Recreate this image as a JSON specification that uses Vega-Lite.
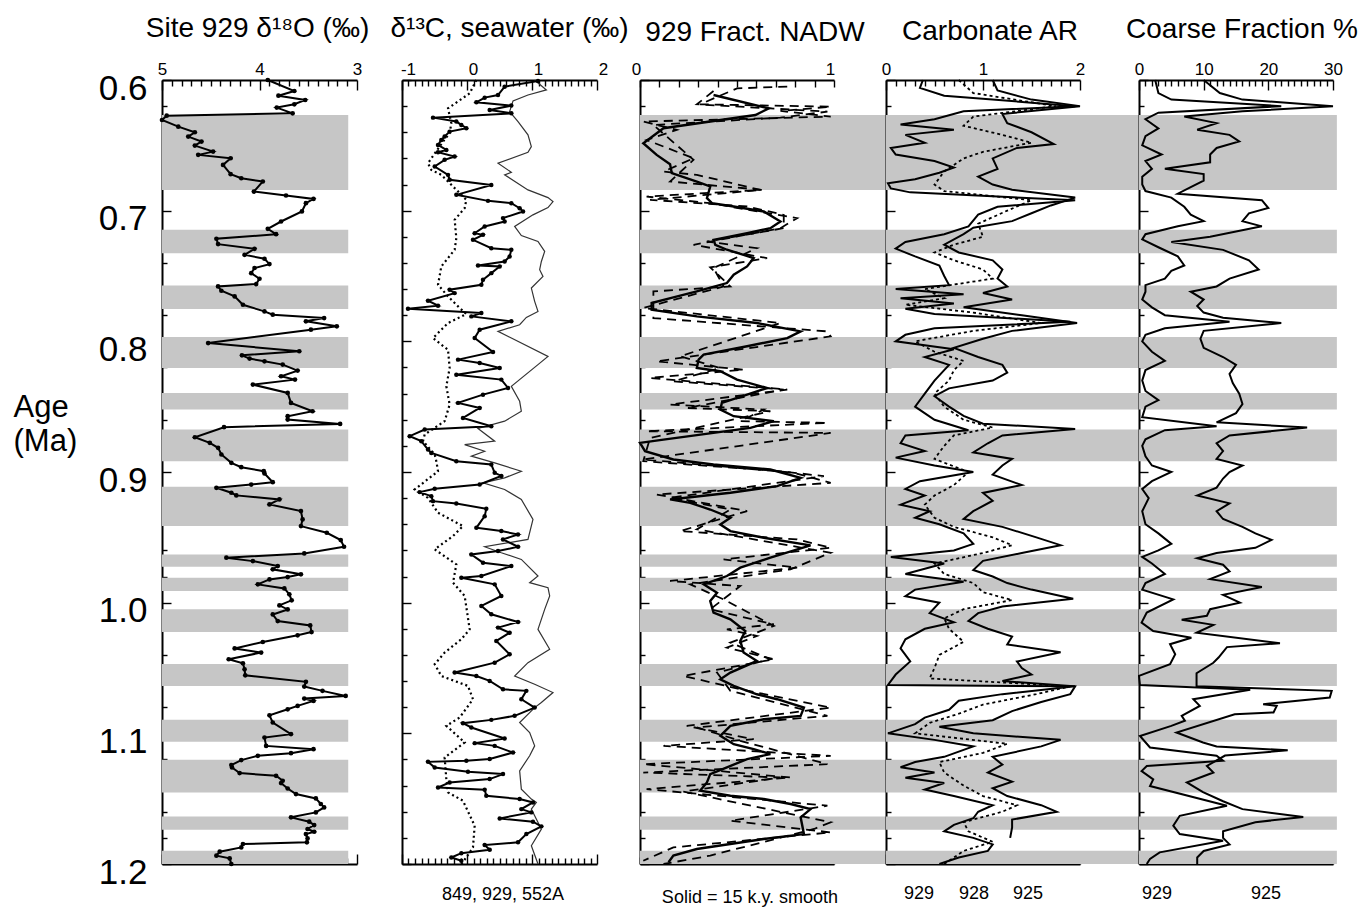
{
"$schema": "https://vega.github.io/schema/vega-lite/v6.json",
"background": "white",
"padding": {"left": 13, "top": 15, "right": 5, "bottom": 5},
"bounds": "flush",
"spacing": 0,
"config": {
 "view": {"stroke": null},
 "font": "Liberation Sans",
 "axis": {"grid": false, "zindex": 1, "domainColor": "#000", "domainWidth": 2, "tickColor": "#000", "tickWidth": 1.4, "labelColor": "#000", "labelFont": "Liberation Sans", "labelFlush": false, "labelOverlap": false, "labelBound": false, "titleColor": "#000", "titleFont": "Liberation Sans", "titleFontWeight": "normal"},
 "title": {"font": "Liberation Sans", "fontSize": 28, "fontWeight": "normal", "color": "#000", "anchor": "middle", "frame": "group"},
 "text": {"font": "Liberation Sans", "fontSize": 18, "color": "#000"}
},
"datasets": {
 "bands": [{"a0":0.6268,"a1":0.6841},{"a0":0.7146,"a1":0.7325},{"a0":0.7572,"a1":0.7753},{"a0":0.7967,"a1":0.8204},{"a0":0.8395,"a1":0.8522},{"a0":0.8675,"a1":0.8917},{"a0":0.9113,"a1":0.9414},{"a0":0.9631,"a1":0.9725},{"a0":0.9809,"a1":0.991},{"a0":1.005,"a1":1.0224},{"a0":1.047,"a1":1.0637},{"a0":1.0897,"a1":1.1065},{"a0":1.1203,"a1":1.1452},{"a0":1.1636,"a1":1.1738},{"a0":1.1898,"a1":1.2}],
 "p1": [{"age":0.6,"v":3.915},{"age":0.6084,"v":3.643},{"age":0.612,"v":3.806},{"age":0.6153,"v":3.531},{"age":0.6186,"v":3.643},{"age":0.6211,"v":3.823},{"age":0.6255,"v":3.66},{"age":0.6273,"v":4.952},{"age":0.6306,"v":5.0},{"age":0.6357,"v":4.833},{"age":0.64,"v":4.663},{"age":0.6433,"v":4.731},{"age":0.6471,"v":4.595},{"age":0.6502,"v":4.663},{"age":0.6548,"v":4.476},{"age":0.6573,"v":4.629},{"age":0.6599,"v":4.296},{"age":0.665,"v":4.374},{"age":0.6721,"v":4.296},{"age":0.6752,"v":4.187},{"age":0.6777,"v":3.966},{"age":0.6854,"v":4.058},{"age":0.6884,"v":3.728},{"age":0.691,"v":3.446},{"age":0.6943,"v":3.524},{"age":0.7006,"v":3.565},{"age":0.7083,"v":3.779},{"age":0.7139,"v":3.915},{"age":0.718,"v":3.83},{"age":0.7215,"v":4.442},{"age":0.7256,"v":4.425},{"age":0.7292,"v":4.051},{"age":0.7338,"v":4.153},{"age":0.7368,"v":3.949},{"age":0.7409,"v":3.898},{"age":0.7439,"v":4.051},{"age":0.7478,"v":4.085},{"age":0.7521,"v":4.0},{"age":0.7562,"v":4.034},{"age":0.758,"v":4.425},{"age":0.7613,"v":4.391},{"age":0.7656,"v":4.255},{"age":0.772,"v":4.17},{"age":0.7771,"v":3.949},{"age":0.7796,"v":3.864},{"age":0.7822,"v":3.337},{"age":0.7847,"v":3.524},{"age":0.7885,"v":3.207},{"age":0.7911,"v":3.473},{"age":0.8013,"v":4.527},{"age":0.8076,"v":3.592},{"age":0.8107,"v":4.18},{"age":0.8132,"v":4.102},{"age":0.8153,"v":3.949},{"age":0.8178,"v":3.762},{"age":0.8224,"v":3.609},{"age":0.8267,"v":3.779},{"age":0.8293,"v":3.636},{"age":0.8331,"v":4.068},{"age":0.8395,"v":3.711},{"age":0.8471,"v":3.677},{"age":0.8535,"v":3.456},{"age":0.8573,"v":3.711},{"age":0.8599,"v":3.711},{"age":0.8632,"v":3.173},{"age":0.8657,"v":4.364},{"age":0.8734,"v":4.663},{"age":0.8777,"v":4.51},{"age":0.8815,"v":4.425},{"age":0.8866,"v":4.391},{"age":0.893,"v":4.289},{"age":0.8963,"v":4.187},{"age":0.8994,"v":3.956},{"age":0.9011,"v":3.949},{"age":0.9078,"v":3.864},{"age":0.9096,"v":4.085},{"age":0.9121,"v":4.442},{"age":0.9159,"v":4.289},{"age":0.9179,"v":4.238},{"age":0.921,"v":3.796},{"age":0.9248,"v":3.898},{"age":0.9299,"v":3.575},{"age":0.9363,"v":3.558},{"age":0.9414,"v":3.575},{"age":0.9465,"v":3.31},{"age":0.9521,"v":3.167},{"age":0.9572,"v":3.133},{"age":0.9623,"v":3.541},{"age":0.9656,"v":4.34},{"age":0.9682,"v":4.068},{"age":0.972,"v":3.813},{"age":0.9745,"v":3.864},{"age":0.9783,"v":3.575},{"age":0.9804,"v":3.711},{"age":0.9822,"v":3.898},{"age":0.986,"v":4.017},{"age":0.9891,"v":3.745},{"age":0.9936,"v":3.694},{"age":0.9982,"v":3.67},{"age":1.0021,"v":3.796},{"age":1.0052,"v":3.711},{"age":1.009,"v":3.864},{"age":1.0141,"v":3.813},{"age":1.0174,"v":3.48},{"age":1.0225,"v":3.466},{"age":1.025,"v":3.609},{"age":1.0301,"v":3.966},{"age":1.035,"v":4.255},{"age":1.0382,"v":3.983},{"age":1.0433,"v":4.316},{"age":1.0464,"v":4.17},{"age":1.051,"v":4.153},{"age":1.0556,"v":4.146},{"age":1.0606,"v":3.524},{"age":1.0642,"v":3.541},{"age":1.0675,"v":3.354},{"age":1.0714,"v":3.116},{"age":1.0734,"v":3.541},{"age":1.0752,"v":3.446},{"age":1.079,"v":3.609},{"age":1.0816,"v":3.711},{"age":1.0862,"v":3.898},{"age":1.0917,"v":3.864},{"age":1.1006,"v":3.677},{"age":1.1032,"v":3.949},{"age":1.1096,"v":3.932},{"age":1.1121,"v":3.446},{"age":1.1152,"v":3.677},{"age":1.1172,"v":4.017},{"age":1.1205,"v":4.187},{"age":1.1243,"v":4.289},{"age":1.1261,"v":4.282},{"age":1.1304,"v":4.204},{"age":1.1325,"v":3.83},{"age":1.1363,"v":3.762},{"age":1.1381,"v":3.779},{"age":1.1422,"v":3.711},{"age":1.1465,"v":3.626},{"age":1.1498,"v":3.422},{"age":1.1541,"v":3.371},{"age":1.1567,"v":3.337},{"age":1.1605,"v":3.422},{"age":1.1643,"v":3.677},{"age":1.1676,"v":3.49},{"age":1.1702,"v":3.439},{"age":1.1732,"v":3.507},{"age":1.1753,"v":3.439},{"age":1.1771,"v":3.524},{"age":1.1804,"v":3.507},{"age":1.1834,"v":3.514},{"age":1.1847,"v":4.17},{"age":1.1873,"v":4.187},{"age":1.1906,"v":4.408},{"age":1.1936,"v":4.442},{"age":1.1957,"v":4.306},{"age":1.2,"v":4.289}],
 "p2": [
{"s":"929","age":0.6008,"v":1.092},{"s":"929","age":0.6051,"v":0.579},{"s":"929","age":0.6115,"v":0.477},{"s":"929","age":0.6135,"v":0.272},{"s":"929","age":0.6171,"v":0.144},{"s":"929","age":0.6196,"v":0.682},{"s":"929","age":0.6229,"v":0.349},{"s":"929","age":0.6255,"v":0.682},{"s":"929","age":0.6288,"v":-0.523},{"s":"929","age":0.6318,"v":-0.164},{"s":"929","age":0.6344,"v":-0.087},{"s":"929","age":0.6369,"v":-0.01},{"s":"929","age":0.6395,"v":-0.267},{"s":"929","age":0.6433,"v":-0.344},{"s":"929","age":0.6459,"v":-0.395},{"s":"929","age":0.6497,"v":-0.446},{"s":"929","age":0.6535,"v":-0.318},{"s":"929","age":0.6553,"v":-0.446},{"s":"929","age":0.6586,"v":-0.19},{"s":"929","age":0.6611,"v":-0.344},{"s":"929","age":0.6662,"v":-0.497},{"s":"929","age":0.6726,"v":-0.292},{"s":"929","age":0.6764,"v":-0.267},{"s":"929","age":0.6803,"v":0.374},{"s":"929","age":0.6879,"v":-0.164},{"s":"929","age":0.6925,"v":0.323},{"s":"929","age":0.6943,"v":0.682},{"s":"929","age":0.6981,"v":0.81},{"s":"929","age":0.7006,"v":0.862},{"s":"929","age":0.7057,"v":0.554},{"s":"929","age":0.7083,"v":0.579},{"s":"929","age":0.7121,"v":0.272},{"s":"929","age":0.7172,"v":0.118},{"s":"929","age":0.7185,"v":0.246},{"s":"929","age":0.7223,"v":0.092},{"s":"929","age":0.7287,"v":0.374},{"s":"929","age":0.7299,"v":0.682},{"s":"929","age":0.735,"v":0.656},{"s":"929","age":0.7389,"v":0.579},{"s":"929","age":0.7419,"v":0.169},{"s":"929","age":0.7427,"v":0.503},{"s":"929","age":0.7478,"v":0.374},{"s":"929","age":0.7529,"v":0.246},{"s":"929","age":0.7567,"v":0.221},{"s":"929","age":0.7605,"v":-0.267},{"s":"929","age":0.7631,"v":-0.19},{"s":"929","age":0.7689,"v":-0.6},{"s":"929","age":0.7727,"v":-0.446},{"s":"929","age":0.775,"v":-0.908},{"s":"929","age":0.7783,"v":0.221},{"s":"929","age":0.7809,"v":0.067},{"s":"929","age":0.7847,"v":0.682},{"s":"929","age":0.7911,"v":0.195},{"s":"929","age":0.7975,"v":0.118},{"s":"929","age":0.8082,"v":0.4},{"s":"929","age":0.814,"v":-0.138},{"s":"929","age":0.8166,"v":0.195},{"s":"929","age":0.8204,"v":0.503},{"s":"929","age":0.8255,"v":-0.164},{"s":"929","age":0.8293,"v":0.528},{"s":"929","age":0.8357,"v":0.631},{"s":"929","age":0.8408,"v":0.246},{"s":"929","age":0.8471,"v":-0.138},{"s":"929","age":0.851,"v":0.195},{"s":"929","age":0.8586,"v":-0.062},{"s":"929","age":0.865,"v":0.374},{"s":"929","age":0.8675,"v":-0.651},{"s":"929","age":0.8726,"v":-0.882},{"s":"929","age":0.8764,"v":-0.703},{"s":"929","age":0.8828,"v":-0.6},{"s":"929","age":0.8854,"v":-0.549},{"s":"929","age":0.8917,"v":-0.164},{"s":"929","age":0.8943,"v":0.374},{"s":"929","age":0.9006,"v":0.426},{"s":"929","age":0.903,"v":0.528},{"s":"929","age":0.9096,"v":0.195},{"s":"929","age":0.9129,"v":-0.497},{"s":"929","age":0.9154,"v":-0.728},{"s":"929","age":0.9185,"v":-0.549},{"s":"929","age":0.9223,"v":-0.523},{"s":"929","age":0.9241,"v":-0.164},{"s":"929","age":0.9282,"v":0.297},{"s":"929","age":0.9338,"v":0.272},{"s":"929","age":0.9427,"v":0.144},{"s":"929","age":0.9452,"v":0.528},{"s":"929","age":0.9478,"v":0.785},{"s":"929","age":0.9516,"v":0.554},{"s":"929","age":0.9572,"v":0.785},{"s":"929","age":0.9605,"v":0.477},{"s":"929","age":0.9631,"v":0.067},{"s":"929","age":0.9694,"v":0.246},{"s":"929","age":0.972,"v":0.682},{"s":"929","age":0.9796,"v":0.221},{"s":"929","age":0.9809,"v":-0.087},{"s":"929","age":0.986,"v":0.426},{"s":"929","age":0.9949,"v":0.528},{"s":"929","age":1.0025,"v":0.221},{"s":"929","age":1.0089,"v":0.374},{"s":"929","age":1.0148,"v":0.785},{"s":"929","age":1.0191,"v":0.477},{"s":"929","age":1.023,"v":0.656},{"s":"929","age":1.0293,"v":0.451},{"s":"929","age":1.0395,"v":0.656},{"s":"929","age":1.0459,"v":0.426},{"s":"929","age":1.0535,"v":-0.19},{"s":"929","age":1.0561,"v":0.144},{"s":"929","age":1.0599,"v":0.349},{"s":"929","age":1.0663,"v":0.554},{"s":"929","age":1.0675,"v":0.913},{"s":"929","age":1.0739,"v":0.836},{"s":"929","age":1.0803,"v":1.041},{"s":"929","age":1.0866,"v":0.733},{"s":"929","age":1.0897,"v":0.374},{"s":"929","age":1.0922,"v":-0.062},{"s":"929","age":1.0955,"v":0.067},{"s":"929","age":1.1039,"v":0.579},{"s":"929","age":1.1075,"v":0.118},{"s":"929","age":1.1096,"v":0.426},{"s":"929","age":1.1147,"v":0.708},{"s":"929","age":1.1197,"v":0.349},{"s":"929","age":1.121,"v":-0.01},{"s":"929","age":1.1218,"v":-0.6},{"s":"929","age":1.1261,"v":-0.497},{"s":"929","age":1.1294,"v":0.015},{"s":"929","age":1.1312,"v":0.554},{"s":"929","age":1.135,"v":0.349},{"s":"929","age":1.1376,"v":-0.267},{"s":"929","age":1.1414,"v":-0.446},{"s":"929","age":1.1432,"v":0.272},{"s":"929","age":1.1478,"v":0.297},{"s":"929","age":1.1503,"v":0.81},{"s":"929","age":1.1529,"v":1.015},{"s":"929","age":1.158,"v":0.836},{"s":"929","age":1.1605,"v":0.99},{"s":"929","age":1.1651,"v":0.503},{"s":"929","age":1.1676,"v":1.015},{"s":"929","age":1.1712,"v":1.144},{"s":"929","age":1.1771,"v":0.913},{"s":"929","age":1.1834,"v":0.785},{"s":"929","age":1.1855,"v":0.272},{"s":"929","age":1.1891,"v":0.349},{"s":"929","age":1.1917,"v":-0.087},{"s":"929","age":1.195,"v":-0.241},{"s":"929","age":1.1975,"v":-0.087},
{"s":"552A","age":0.6,"v":1.041},{"s":"552A","age":0.6076,"v":1.221},{"s":"552A","age":0.6115,"v":0.938},{"s":"552A","age":0.616,"v":0.708},{"s":"552A","age":0.6242,"v":0.656},{"s":"552A","age":0.6318,"v":0.785},{"s":"552A","age":0.642,"v":0.938},{"s":"552A","age":0.651,"v":0.99},{"s":"552A","age":0.6553,"v":0.938},{"s":"552A","age":0.6637,"v":0.477},{"s":"552A","age":0.6706,"v":0.682},{"s":"552A","age":0.6726,"v":0.579},{"s":"552A","age":0.6841,"v":0.938},{"s":"552A","age":0.69,"v":1.246},{"s":"552A","age":0.693,"v":1.323},{"s":"552A","age":0.6976,"v":1.246},{"s":"552A","age":0.7032,"v":1.015},{"s":"552A","age":0.7121,"v":0.733},{"s":"552A","age":0.719,"v":0.836},{"s":"552A","age":0.7236,"v":1.092},{"s":"552A","age":0.7312,"v":1.195},{"s":"552A","age":0.7389,"v":1.144},{"s":"552A","age":0.7452,"v":1.118},{"s":"552A","age":0.7503,"v":1.169},{"s":"552A","age":0.7592,"v":0.99},{"s":"552A","age":0.7694,"v":1.041},{"s":"552A","age":0.7771,"v":1.092},{"s":"552A","age":0.7817,"v":0.913},{"s":"552A","age":0.7873,"v":0.81},{"s":"552A","age":0.7924,"v":0.477},{"s":"552A","age":0.7975,"v":0.682},{"s":"552A","age":0.8115,"v":1.246},{"s":"552A","age":0.8178,"v":1.092},{"s":"552A","age":0.8344,"v":0.682},{"s":"552A","age":0.8459,"v":0.81},{"s":"552A","age":0.8535,"v":0.836},{"s":"552A","age":0.8611,"v":0.579},{"s":"552A","age":0.8667,"v":0.169},{"s":"552A","age":0.8764,"v":0.426},{"s":"552A","age":0.879,"v":-0.036},{"s":"552A","age":0.8841,"v":0.272},{"s":"552A","age":0.8879,"v":0.067},{"s":"552A","age":0.893,"v":0.426},{"s":"552A","age":0.8994,"v":0.836},{"s":"552A","age":0.9045,"v":0.579},{"s":"552A","age":0.9083,"v":0.246},{"s":"552A","age":0.9134,"v":0.579},{"s":"552A","age":0.921,"v":0.836},{"s":"552A","age":0.9363,"v":1.015},{"s":"552A","age":0.9516,"v":0.938},{"s":"552A","age":0.9572,"v":0.272},{"s":"552A","age":0.9618,"v":0.528},{"s":"552A","age":0.9669,"v":0.836},{"s":"552A","age":0.9796,"v":1.092},{"s":"552A","age":0.9847,"v":0.964},{"s":"552A","age":0.9885,"v":1.246},{"s":"552A","age":0.9949,"v":1.272},{"s":"552A","age":1.0051,"v":1.195},{"s":"552A","age":1.0204,"v":1.092},{"s":"552A","age":1.0357,"v":1.272},{"s":"552A","age":1.0459,"v":0.938},{"s":"552A","age":1.0561,"v":0.733},{"s":"552A","age":1.0624,"v":1.041},{"s":"552A","age":1.0688,"v":1.323},{"s":"552A","age":1.0764,"v":1.144},{"s":"552A","age":1.0803,"v":1.041},{"s":"552A","age":1.0917,"v":0.81},{"s":"552A","age":1.0994,"v":0.964},{"s":"552A","age":1.1096,"v":1.041},{"s":"552A","age":1.1172,"v":0.964},{"s":"552A","age":1.1287,"v":0.81},{"s":"552A","age":1.1427,"v":0.836},{"s":"552A","age":1.1503,"v":0.99},{"s":"552A","age":1.1529,"v":1.067},{"s":"552A","age":1.158,"v":0.99},{"s":"552A","age":1.1733,"v":1.144},{"s":"552A","age":1.186,"v":0.99},{"s":"552A","age":1.2,"v":1.092},
{"s":"849","age":0.6,"v":0.144},{"s":"849","age":0.6102,"v":0.041},{"s":"849","age":0.6217,"v":-0.292},{"s":"849","age":0.6331,"v":-0.241},{"s":"849","age":0.6408,"v":-0.267},{"s":"849","age":0.6471,"v":-0.369},{"s":"849","age":0.6637,"v":-0.6},{"s":"849","age":0.6688,"v":-0.549},{"s":"849","age":0.6726,"v":-0.395},{"s":"849","age":0.6815,"v":-0.215},{"s":"849","age":0.6917,"v":-0.01},{"s":"849","age":0.6981,"v":-0.036},{"s":"849","age":0.707,"v":-0.19},{"s":"849","age":0.721,"v":-0.164},{"s":"849","age":0.7299,"v":-0.19},{"s":"849","age":0.7427,"v":-0.395},{"s":"849","age":0.7567,"v":-0.446},{"s":"849","age":0.7656,"v":-0.292},{"s":"849","age":0.7745,"v":-0.113},{"s":"849","age":0.7791,"v":-0.01},{"s":"849","age":0.786,"v":-0.292},{"s":"849","age":0.7975,"v":-0.523},{"s":"849","age":0.8025,"v":-0.395},{"s":"849","age":0.8064,"v":-0.292},{"s":"849","age":0.8204,"v":-0.267},{"s":"849","age":0.8344,"v":-0.318},{"s":"849","age":0.8484,"v":-0.267},{"s":"849","age":0.8611,"v":-0.344},{"s":"849","age":0.8662,"v":-0.497},{"s":"849","age":0.8713,"v":-0.651},{"s":"849","age":0.8764,"v":-0.677},{"s":"849","age":0.8866,"v":-0.497},{"s":"849","age":0.8917,"v":-0.472},{"s":"849","age":0.8994,"v":-0.446},{"s":"849","age":0.9134,"v":-0.805},{"s":"849","age":0.9198,"v":-0.6},{"s":"849","age":0.9312,"v":-0.446},{"s":"849","age":0.9414,"v":-0.062},{"s":"849","age":0.949,"v":-0.215},{"s":"849","age":0.9592,"v":-0.497},{"s":"849","age":0.9707,"v":-0.164},{"s":"849","age":0.9847,"v":-0.215},{"s":"849","age":0.9949,"v":-0.036},{"s":"849","age":1.0204,"v":0.041},{"s":"849","age":1.028,"v":-0.087},{"s":"849","age":1.0382,"v":-0.344},{"s":"849","age":1.0471,"v":-0.497},{"s":"849","age":1.0561,"v":-0.395},{"s":"849","age":1.0637,"v":0.015},{"s":"849","age":1.0739,"v":0.092},{"s":"849","age":1.0879,"v":-0.113},{"s":"849","age":1.0943,"v":-0.318},{"s":"849","age":1.107,"v":-0.036},{"s":"849","age":1.1185,"v":-0.344},{"s":"849","age":1.135,"v":-0.318},{"s":"849","age":1.1452,"v":-0.292},{"s":"849","age":1.1516,"v":-0.062},{"s":"849","age":1.1707,"v":0.118},{"s":"849","age":1.1873,"v":0.092},{"s":"849","age":1.1949,"v":-0.01},{"s":"849","age":1.2,"v":-0.087}],
 "p3": [
{"s":"sm","age":0.6115,"v":0.379},{"s":"sm","age":0.6217,"v":0.664},{"s":"sm","age":0.6268,"v":0.595},{"s":"sm","age":0.6369,"v":0.121},{"s":"sm","age":0.6484,"v":0.017},{"s":"sm","age":0.6573,"v":0.086},{"s":"sm","age":0.6645,"v":0.155},{"s":"sm","age":0.6713,"v":0.164},{"s":"sm","age":0.6777,"v":0.293},{"s":"sm","age":0.6815,"v":0.362},{"s":"sm","age":0.6904,"v":0.345},{"s":"sm","age":0.6943,"v":0.371},{"s":"sm","age":0.6968,"v":0.483},{"s":"sm","age":0.7006,"v":0.638},{"s":"sm","age":0.7083,"v":0.724},{"s":"sm","age":0.7134,"v":0.672},{"s":"sm","age":0.7172,"v":0.552},{"s":"sm","age":0.7223,"v":0.379},{"s":"sm","age":0.7261,"v":0.388},{"s":"sm","age":0.7299,"v":0.448},{"s":"sm","age":0.7338,"v":0.534},{"s":"sm","age":0.7363,"v":0.586},{"s":"sm","age":0.7427,"v":0.552},{"s":"sm","age":0.749,"v":0.483},{"s":"sm","age":0.7554,"v":0.448},{"s":"sm","age":0.7618,"v":0.293},{"s":"sm","age":0.7664,"v":0.172},{"s":"sm","age":0.7707,"v":0.06},{"s":"sm","age":0.7758,"v":0.06},{"s":"sm","age":0.7809,"v":0.293},{"s":"sm","age":0.786,"v":0.603},{"s":"sm","age":0.7924,"v":0.828},{"s":"sm","age":0.7975,"v":0.759},{"s":"sm","age":0.8038,"v":0.552},{"s":"sm","age":0.8102,"v":0.328},{"s":"sm","age":0.814,"v":0.302},{"s":"sm","age":0.8204,"v":0.293},{"s":"sm","age":0.8229,"v":0.414},{"s":"sm","age":0.8293,"v":0.5},{"s":"sm","age":0.8357,"v":0.655},{"s":"sm","age":0.8408,"v":0.552},{"s":"sm","age":0.8471,"v":0.422},{"s":"sm","age":0.8522,"v":0.414},{"s":"sm","age":0.8573,"v":0.483},{"s":"sm","age":0.8611,"v":0.69},{"s":"sm","age":0.8662,"v":0.569},{"s":"sm","age":0.8701,"v":0.379},{"s":"sm","age":0.8752,"v":0.121},{"s":"sm","age":0.8777,"v":0.0},{"s":"sm","age":0.8841,"v":0.026},{"s":"sm","age":0.8904,"v":0.172},{"s":"sm","age":0.8943,"v":0.379},{"s":"sm","age":0.8981,"v":0.672},{"s":"sm","age":0.9045,"v":0.828},{"s":"sm","age":0.9108,"v":0.707},{"s":"sm","age":0.9159,"v":0.466},{"s":"sm","age":0.921,"v":0.155},{"s":"sm","age":0.9236,"v":0.259},{"s":"sm","age":0.9287,"v":0.362},{"s":"sm","age":0.935,"v":0.466},{"s":"sm","age":0.9401,"v":0.414},{"s":"sm","age":0.9452,"v":0.466},{"s":"sm","age":0.9503,"v":0.638},{"s":"sm","age":0.9562,"v":0.879},{"s":"sm","age":0.9656,"v":0.672},{"s":"sm","age":0.9732,"v":0.517},{"s":"sm","age":0.9796,"v":0.448},{"s":"sm","age":0.986,"v":0.328},{"s":"sm","age":0.9924,"v":0.397},{"s":"sm","age":0.9987,"v":0.362},{"s":"sm","age":1.0076,"v":0.379},{"s":"sm","age":1.0127,"v":0.466},{"s":"sm","age":1.0217,"v":0.543},{"s":"sm","age":1.0293,"v":0.517},{"s":"sm","age":1.0382,"v":0.534},{"s":"sm","age":1.0446,"v":0.603},{"s":"sm","age":1.0535,"v":0.466},{"s":"sm","age":1.0586,"v":0.414},{"s":"sm","age":1.0637,"v":0.483},{"s":"sm","age":1.0701,"v":0.603},{"s":"sm","age":1.0739,"v":0.707},{"s":"sm","age":1.0803,"v":0.845},{"s":"sm","age":1.0866,"v":0.828},{"s":"sm","age":1.0892,"v":0.638},{"s":"sm","age":1.0943,"v":0.466},{"s":"sm","age":1.1019,"v":0.414},{"s":"sm","age":1.1083,"v":0.483},{"s":"sm","age":1.1121,"v":0.586},{"s":"sm","age":1.1159,"v":0.672},{"s":"sm","age":1.1197,"v":0.552},{"s":"sm","age":1.1261,"v":0.448},{"s":"sm","age":1.1312,"v":0.362},{"s":"sm","age":1.1376,"v":0.345},{"s":"sm","age":1.1439,"v":0.31},{"s":"sm","age":1.1478,"v":0.466},{"s":"sm","age":1.1503,"v":0.638},{"s":"sm","age":1.1541,"v":0.776},{"s":"sm","age":1.158,"v":0.879},{"s":"sm","age":1.1643,"v":0.828},{"s":"sm","age":1.1771,"v":0.845},{"s":"sm","age":1.1809,"v":0.638},{"s":"sm","age":1.1885,"v":0.293},{"s":"sm","age":1.1936,"v":0.172},{"s":"sm","age":1.1987,"v":0.147},
{"s":"A","age":0.6051,"v":0.759},{"s":"A","age":0.6064,"v":0.5},{"s":"A","age":0.6186,"v":0.31},{"s":"A","age":0.6204,"v":0.983},{"s":"A","age":0.6237,"v":0.724},{"s":"A","age":0.628,"v":0.983},{"s":"A","age":0.6318,"v":0.017},{"s":"A","age":0.6382,"v":0.19},{"s":"A","age":0.6459,"v":0.034},{"s":"A","age":0.6599,"v":0.276},{"s":"A","age":0.6701,"v":0.121},{"s":"A","age":0.6726,"v":0.293},{"s":"A","age":0.6841,"v":0.621},{"s":"A","age":0.6892,"v":0.034},{"s":"A","age":0.6943,"v":0.362},{"s":"A","age":0.7057,"v":0.81},{"s":"A","age":0.7134,"v":0.724},{"s":"A","age":0.7261,"v":0.276},{"s":"A","age":0.7363,"v":0.655},{"s":"A","age":0.7434,"v":0.362},{"s":"A","age":0.758,"v":0.466},{"s":"A","age":0.7618,"v":0.069},{"s":"A","age":0.7822,"v":0.069},{"s":"A","age":0.7924,"v":0.966},{"s":"A","age":0.7962,"v":0.983},{"s":"A","age":0.8153,"v":0.086},{"s":"A","age":0.8217,"v":0.534},{"s":"A","age":0.828,"v":0.052},{"s":"A","age":0.8369,"v":0.759},{"s":"A","age":0.8484,"v":0.155},{"s":"A","age":0.8522,"v":0.638},{"s":"A","age":0.8611,"v":0.517},{"s":"A","age":0.8624,"v":0.966},{"s":"A","age":0.8688,"v":0.034},{"s":"A","age":0.8701,"v":0.983},{"s":"A","age":0.8904,"v":0.017},{"s":"A","age":0.9006,"v":0.793},{"s":"A","age":0.9083,"v":0.983},{"s":"A","age":0.9172,"v":0.086},{"s":"A","age":0.9299,"v":0.552},{"s":"A","age":0.9452,"v":0.207},{"s":"A","age":0.9516,"v":0.81},{"s":"A","age":0.958,"v":0.983},{"s":"A","age":0.9669,"v":0.431},{"s":"A","age":0.9732,"v":0.81},{"s":"A","age":0.9834,"v":0.155},{"s":"A","age":0.9873,"v":0.517},{"s":"A","age":1.0051,"v":0.362},{"s":"A","age":1.0166,"v":0.69},{"s":"A","age":1.0204,"v":0.448},{"s":"A","age":1.0255,"v":0.603},{"s":"A","age":1.0344,"v":0.448},{"s":"A","age":1.0433,"v":0.69},{"s":"A","age":1.0561,"v":0.224},{"s":"A","age":1.0662,"v":0.517},{"s":"A","age":1.0803,"v":0.983},{"s":"A","age":1.0943,"v":0.241},{"s":"A","age":1.1045,"v":0.586},{"s":"A","age":1.1096,"v":0.121},{"s":"A","age":1.1172,"v":0.983},{"s":"A","age":1.1236,"v":0.017},{"s":"A","age":1.1338,"v":0.776},{"s":"A","age":1.1427,"v":0.034},{"s":"A","age":1.1554,"v":0.966},{"s":"A","age":1.1669,"v":0.466},{"s":"A","age":1.1758,"v":0.983},{"s":"A","age":1.1873,"v":0.172},{"s":"A","age":1.1975,"v":0.017},
{"s":"B","age":0.6084,"v":0.379},{"s":"B","age":0.6186,"v":0.293},{"s":"B","age":0.6242,"v":0.966},{"s":"B","age":0.6288,"v":0.724},{"s":"B","age":0.6344,"v":0.069},{"s":"B","age":0.6611,"v":0.276},{"s":"B","age":0.6777,"v":0.155},{"s":"B","age":0.6841,"v":0.629},{"s":"B","age":0.6917,"v":0.052},{"s":"B","age":0.6968,"v":0.552},{"s":"B","age":0.7032,"v":0.741},{"s":"B","age":0.7134,"v":0.741},{"s":"B","age":0.7236,"v":0.345},{"s":"B","age":0.7287,"v":0.603},{"s":"B","age":0.7439,"v":0.379},{"s":"B","age":0.758,"v":0.431},{"s":"B","age":0.7745,"v":0.017},{"s":"B","age":0.786,"v":0.724},{"s":"B","age":0.8115,"v":0.207},{"s":"B","age":0.8204,"v":0.414},{"s":"B","age":0.8306,"v":0.172},{"s":"B","age":0.8369,"v":0.741},{"s":"B","age":0.851,"v":0.241},{"s":"B","age":0.8535,"v":0.672},{"s":"B","age":0.8739,"v":0.052},{"s":"B","age":0.8917,"v":0.017},{"s":"B","age":0.8994,"v":0.724},{"s":"B","age":0.9032,"v":0.948},{"s":"B","age":0.9198,"v":0.155},{"s":"B","age":0.9287,"v":0.466},{"s":"B","age":0.9439,"v":0.293},{"s":"B","age":0.9618,"v":0.983},{"s":"B","age":0.9745,"v":0.776},{"s":"B","age":0.986,"v":0.259},{"s":"B","age":0.9975,"v":0.431},{"s":"B","age":1.0178,"v":0.69},{"s":"B","age":1.0306,"v":0.466},{"s":"B","age":1.0433,"v":0.672},{"s":"B","age":1.0535,"v":0.397},{"s":"B","age":1.0675,"v":0.466},{"s":"B","age":1.0866,"v":0.966},{"s":"B","age":1.0955,"v":0.293},{"s":"B","age":1.1057,"v":0.517},{"s":"B","age":1.1236,"v":0.966},{"s":"B","age":1.13,"v":0.017},{"s":"B","age":1.1338,"v":0.724},{"s":"B","age":1.1446,"v":0.224},{"s":"B","age":1.1681,"v":0.983},{"s":"B","age":1.1732,"v":0.897},{"s":"B","age":1.1936,"v":0.362},{"s":"B","age":1.2,"v":0.121}],
 "p4": [
{"s":"929","age":0.6,"v":0.38},{"s":"929","age":0.606,"v":0.35},{"s":"929","age":0.612,"v":0.6},{"s":"929","age":0.62,"v":1.95},{"s":"929","age":0.624,"v":0.8},{"s":"929","age":0.63,"v":0.5},{"s":"929","age":0.634,"v":0.15},{"s":"929","age":0.638,"v":0.7},{"s":"929","age":0.642,"v":0.2},{"s":"929","age":0.648,"v":0.4},{"s":"929","age":0.652,"v":0.05},{"s":"929","age":0.657,"v":0.1},{"s":"929","age":0.662,"v":0.5},{"s":"929","age":0.667,"v":0.7},{"s":"929","age":0.671,"v":0.55},{"s":"929","age":0.676,"v":0.3},{"s":"929","age":0.679,"v":0.02},{"s":"929","age":0.683,"v":0.05},{"s":"929","age":0.686,"v":0.25},{"s":"929","age":0.692,"v":1.95},{"s":"929","age":0.697,"v":1.15},{"s":"929","age":0.703,"v":0.95},{"s":"929","age":0.712,"v":0.85},{"s":"929","age":0.718,"v":0.6},{"s":"929","age":0.724,"v":0.2},{"s":"929","age":0.729,"v":0.1},{"s":"929","age":0.735,"v":0.3},{"s":"929","age":0.742,"v":0.55},{"s":"929","age":0.75,"v":0.6},{"s":"929","age":0.757,"v":0.65},{"s":"929","age":0.76,"v":0.1},{"s":"929","age":0.764,"v":0.8},{"s":"929","age":0.767,"v":0.15},{"s":"929","age":0.771,"v":0.7},{"s":"929","age":0.775,"v":0.2},{"s":"929","age":0.779,"v":0.5},{"s":"929","age":0.785,"v":1.9},{"s":"929","age":0.79,"v":0.5},{"s":"929","age":0.795,"v":0.2},{"s":"929","age":0.8,"v":0.1},{"s":"929","age":0.806,"v":0.7},{"s":"929","age":0.812,"v":0.4},{"s":"929","age":0.818,"v":0.65},{"s":"929","age":0.822,"v":0.6},{"s":"929","age":0.83,"v":0.5},{"s":"929","age":0.84,"v":0.4},{"s":"929","age":0.85,"v":0.3},{"s":"929","age":0.86,"v":0.5},{"s":"929","age":0.868,"v":0.85},{"s":"929","age":0.872,"v":0.2},{"s":"929","age":0.878,"v":0.15},{"s":"929","age":0.884,"v":0.4},{"s":"929","age":0.889,"v":0.1},{"s":"929","age":0.895,"v":0.5},{"s":"929","age":0.9,"v":0.9},{"s":"929","age":0.907,"v":0.35},{"s":"929","age":0.913,"v":0.2},{"s":"929","age":0.918,"v":0.4},{"s":"929","age":0.925,"v":0.15},{"s":"929","age":0.93,"v":0.45},{"s":"929","age":0.935,"v":0.3},{"s":"929","age":0.94,"v":0.55},{"s":"929","age":0.947,"v":0.8},{"s":"929","age":0.955,"v":0.9},{"s":"929","age":0.96,"v":0.7},{"s":"929","age":0.965,"v":0.05},{"s":"929","age":0.97,"v":0.6},{"s":"929","age":0.978,"v":0.2},{"s":"929","age":0.984,"v":0.8},{"s":"929","age":0.99,"v":0.3},{"s":"929","age":0.995,"v":0.2},{"s":"929","age":1.0,"v":0.55},{"s":"929","age":1.008,"v":0.45},{"s":"929","age":1.015,"v":0.7},{"s":"929","age":1.02,"v":0.4},{"s":"929","age":1.028,"v":0.2},{"s":"929","age":1.035,"v":0.15},{"s":"929","age":1.045,"v":0.25},{"s":"929","age":1.055,"v":0.1},{"s":"929","age":1.063,"v":0.02},{"s":"929","age":1.064,"v":1.95},{"s":"929","age":1.07,"v":1.2},{"s":"929","age":1.075,"v":0.75},{"s":"929","age":1.082,"v":0.65},{"s":"929","age":1.088,"v":0.4},{"s":"929","age":1.093,"v":0.3},{"s":"929","age":1.1,"v":0.02},{"s":"929","age":1.105,"v":0.5},{"s":"929","age":1.11,"v":0.9},{"s":"929","age":1.118,"v":0.6},{"s":"929","age":1.122,"v":0.3},{"s":"929","age":1.126,"v":0.15},{"s":"929","age":1.13,"v":0.5},{"s":"929","age":1.134,"v":0.2},{"s":"929","age":1.138,"v":0.6},{"s":"929","age":1.143,"v":0.4},{"s":"929","age":1.148,"v":0.7},{"s":"929","age":1.155,"v":1.1},{"s":"929","age":1.16,"v":0.95},{"s":"929","age":1.165,"v":0.9},{"s":"929","age":1.17,"v":0.7},{"s":"929","age":1.175,"v":0.6},{"s":"929","age":1.18,"v":0.9},{"s":"929","age":1.185,"v":1.1},{"s":"929","age":1.19,"v":1.05},{"s":"929","age":1.195,"v":0.75},{"s":"929","age":1.2,"v":0.55},
{"s":"928","age":0.6,"v":0.75},{"s":"928","age":0.61,"v":0.9},{"s":"928","age":0.62,"v":1.75},{"s":"928","age":0.628,"v":0.9},{"s":"928","age":0.635,"v":0.8},{"s":"928","age":0.642,"v":1.2},{"s":"928","age":0.648,"v":1.5},{"s":"928","age":0.655,"v":1.0},{"s":"928","age":0.66,"v":0.8},{"s":"928","age":0.67,"v":0.6},{"s":"928","age":0.68,"v":0.5},{"s":"928","age":0.685,"v":0.6},{"s":"928","age":0.692,"v":1.5},{"s":"928","age":0.7,"v":1.25},{"s":"928","age":0.71,"v":0.95},{"s":"928","age":0.72,"v":1.0},{"s":"928","age":0.726,"v":0.7},{"s":"928","age":0.732,"v":0.5},{"s":"928","age":0.738,"v":0.7},{"s":"928","age":0.745,"v":1.0},{"s":"928","age":0.752,"v":1.1},{"s":"928","age":0.76,"v":0.4},{"s":"928","age":0.767,"v":0.6},{"s":"928","age":0.772,"v":0.2},{"s":"928","age":0.778,"v":0.9},{"s":"928","age":0.786,"v":1.6},{"s":"928","age":0.792,"v":0.9},{"s":"928","age":0.8,"v":0.3},{"s":"928","age":0.808,"v":0.5},{"s":"928","age":0.815,"v":0.8},{"s":"928","age":0.822,"v":0.7},{"s":"928","age":0.83,"v":0.65},{"s":"928","age":0.84,"v":0.5},{"s":"928","age":0.85,"v":0.6},{"s":"928","age":0.86,"v":0.8},{"s":"928","age":0.866,"v":1.1},{"s":"928","age":0.872,"v":0.7},{"s":"928","age":0.88,"v":0.6},{"s":"928","age":0.89,"v":0.5},{"s":"928","age":0.9,"v":0.85},{"s":"928","age":0.91,"v":0.7},{"s":"928","age":0.918,"v":0.5},{"s":"928","age":0.925,"v":0.4},{"s":"928","age":0.935,"v":0.5},{"s":"928","age":0.942,"v":0.7},{"s":"928","age":0.95,"v":1.1},{"s":"928","age":0.956,"v":1.3},{"s":"928","age":0.962,"v":1.0},{"s":"928","age":0.97,"v":0.5},{"s":"928","age":0.978,"v":0.6},{"s":"928","age":0.985,"v":0.9},{"s":"928","age":0.992,"v":1.0},{"s":"928","age":0.998,"v":1.3},{"s":"928","age":1.005,"v":0.8},{"s":"928","age":1.012,"v":0.6},{"s":"928","age":1.02,"v":0.65},{"s":"928","age":1.03,"v":0.8},{"s":"928","age":1.04,"v":0.55},{"s":"928","age":1.05,"v":0.5},{"s":"928","age":1.058,"v":0.45},{"s":"928","age":1.064,"v":1.9},{"s":"928","age":1.07,"v":1.55},{"s":"928","age":1.078,"v":1.0},{"s":"928","age":1.085,"v":0.75},{"s":"928","age":1.092,"v":0.45},{"s":"928","age":1.1,"v":0.3},{"s":"928","age":1.108,"v":1.25},{"s":"928","age":1.115,"v":1.0},{"s":"928","age":1.122,"v":0.55},{"s":"928","age":1.13,"v":0.6},{"s":"928","age":1.14,"v":0.8},{"s":"928","age":1.148,"v":1.0},{"s":"928","age":1.155,"v":1.35},{"s":"928","age":1.16,"v":1.2},{"s":"928","age":1.168,"v":0.8},{"s":"928","age":1.175,"v":0.85},{"s":"928","age":1.183,"v":1.1},{"s":"928","age":1.19,"v":0.8},{"s":"928","age":1.2,"v":0.6},
{"s":"925","age":0.6,"v":1.1},{"s":"925","age":0.608,"v":1.15},{"s":"925","age":0.615,"v":1.5},{"s":"925","age":0.62,"v":2.0},{"s":"925","age":0.626,"v":1.2},{"s":"925","age":0.633,"v":1.25},{"s":"925","age":0.64,"v":1.5},{"s":"925","age":0.649,"v":1.73},{"s":"925","age":0.652,"v":1.35},{"s":"925","age":0.66,"v":1.1},{"s":"925","age":0.668,"v":1.15},{"s":"925","age":0.674,"v":0.95},{"s":"925","age":0.68,"v":1.1},{"s":"925","age":0.684,"v":1.3},{"s":"925","age":0.69,"v":1.95},{"s":"925","age":0.696,"v":1.7},{"s":"925","age":0.702,"v":1.5},{"s":"925","age":0.708,"v":1.3},{"s":"925","age":0.713,"v":0.9},{"s":"925","age":0.718,"v":0.8},{"s":"925","age":0.726,"v":0.6},{"s":"925","age":0.732,"v":0.75},{"s":"925","age":0.738,"v":1.1},{"s":"925","age":0.745,"v":1.2},{"s":"925","age":0.752,"v":1.15},{"s":"925","age":0.758,"v":1.25},{"s":"925","age":0.763,"v":1.0},{"s":"925","age":0.768,"v":1.3},{"s":"925","age":0.774,"v":0.8},{"s":"925","age":0.78,"v":1.4},{"s":"925","age":0.786,"v":1.97},{"s":"925","age":0.792,"v":1.3},{"s":"925","age":0.798,"v":1.0},{"s":"925","age":0.805,"v":0.7},{"s":"925","age":0.812,"v":0.95},{"s":"925","age":0.818,"v":1.2},{"s":"925","age":0.824,"v":1.25},{"s":"925","age":0.83,"v":1.1},{"s":"925","age":0.836,"v":0.65},{"s":"925","age":0.842,"v":0.5},{"s":"925","age":0.85,"v":0.65},{"s":"925","age":0.857,"v":0.8},{"s":"925","age":0.863,"v":1.0},{"s":"925","age":0.867,"v":1.95},{"s":"925","age":0.872,"v":1.2},{"s":"925","age":0.878,"v":1.05},{"s":"925","age":0.885,"v":0.9},{"s":"925","age":0.89,"v":1.3},{"s":"925","age":0.895,"v":1.2},{"s":"925","age":0.902,"v":1.1},{"s":"925","age":0.91,"v":1.4},{"s":"925","age":0.916,"v":1.0},{"s":"925","age":0.922,"v":1.1},{"s":"925","age":0.93,"v":0.9},{"s":"925","age":0.936,"v":0.8},{"s":"925","age":0.942,"v":1.2},{"s":"925","age":0.95,"v":1.55},{"s":"925","age":0.956,"v":1.8},{"s":"925","age":0.962,"v":1.4},{"s":"925","age":0.968,"v":1.0},{"s":"925","age":0.975,"v":0.9},{"s":"925","age":0.98,"v":1.1},{"s":"925","age":0.985,"v":1.25},{"s":"925","age":0.99,"v":1.5},{"s":"925","age":0.997,"v":1.93},{"s":"925","age":1.003,"v":1.2},{"s":"925","age":1.008,"v":0.95},{"s":"925","age":1.014,"v":0.85},{"s":"925","age":1.02,"v":1.05},{"s":"925","age":1.026,"v":1.3},{"s":"925","age":1.032,"v":1.25},{"s":"925","age":1.038,"v":1.8},{"s":"925","age":1.045,"v":1.35},{"s":"925","age":1.05,"v":1.4},{"s":"925","age":1.055,"v":1.5},{"s":"925","age":1.06,"v":1.2},{"s":"925","age":1.064,"v":1.95},{"s":"925","age":1.07,"v":1.9},{"s":"925","age":1.076,"v":1.6},{"s":"925","age":1.083,"v":1.3},{"s":"925","age":1.09,"v":1.1},{"s":"925","age":1.095,"v":0.55},{"s":"925","age":1.1,"v":0.9},{"s":"925","age":1.105,"v":1.8},{"s":"925","age":1.11,"v":1.6},{"s":"925","age":1.118,"v":1.1},{"s":"925","age":1.124,"v":1.2},{"s":"925","age":1.13,"v":1.05},{"s":"925","age":1.137,"v":1.3},{"s":"925","age":1.142,"v":1.1},{"s":"925","age":1.148,"v":1.25},{"s":"925","age":1.155,"v":1.6},{"s":"925","age":1.16,"v":1.76},{"s":"925","age":1.166,"v":1.3},{"s":"925","age":1.172,"v":1.3},{"s":"925","age":1.18,"v":1.28}],
 "p5": [
{"s":"929","age":0.6,"v":2.5},{"s":"929","age":0.61,"v":3},{"s":"929","age":0.615,"v":5},{"s":"929","age":0.62,"v":22},{"s":"929","age":0.625,"v":3},{"s":"929","age":0.63,"v":1},{"s":"929","age":0.637,"v":3},{"s":"929","age":0.643,"v":1},{"s":"929","age":0.65,"v":0.5},{"s":"929","age":0.657,"v":3.5},{"s":"929","age":0.662,"v":1},{"s":"929","age":0.668,"v":2},{"s":"929","age":0.674,"v":0.5},{"s":"929","age":0.68,"v":0.5},{"s":"929","age":0.685,"v":1},{"s":"929","age":0.69,"v":5},{"s":"929","age":0.697,"v":7},{"s":"929","age":0.703,"v":8},{"s":"929","age":0.708,"v":10},{"s":"929","age":0.712,"v":6},{"s":"929","age":0.718,"v":1},{"s":"929","age":0.722,"v":0.5},{"s":"929","age":0.728,"v":3},{"s":"929","age":0.735,"v":6},{"s":"929","age":0.742,"v":7},{"s":"929","age":0.746,"v":5},{"s":"929","age":0.752,"v":4},{"s":"929","age":0.757,"v":1},{"s":"929","age":0.762,"v":1},{"s":"929","age":0.768,"v":0.5},{"s":"929","age":0.774,"v":2},{"s":"929","age":0.78,"v":4},{"s":"929","age":0.785,"v":14},{"s":"929","age":0.79,"v":4},{"s":"929","age":0.795,"v":1},{"s":"929","age":0.8,"v":0.5},{"s":"929","age":0.808,"v":2},{"s":"929","age":0.815,"v":4},{"s":"929","age":0.822,"v":1},{"s":"929","age":0.83,"v":0.5},{"s":"929","age":0.838,"v":1},{"s":"929","age":0.845,"v":3},{"s":"929","age":0.85,"v":1},{"s":"929","age":0.858,"v":0.5},{"s":"929","age":0.865,"v":12},{"s":"929","age":0.868,"v":4},{"s":"929","age":0.875,"v":1},{"s":"929","age":0.88,"v":0.5},{"s":"929","age":0.888,"v":1},{"s":"929","age":0.895,"v":2},{"s":"929","age":0.9,"v":5},{"s":"929","age":0.907,"v":2},{"s":"929","age":0.913,"v":0.5},{"s":"929","age":0.92,"v":1.5},{"s":"929","age":0.93,"v":0.5},{"s":"929","age":0.94,"v":1},{"s":"929","age":0.947,"v":3},{"s":"929","age":0.955,"v":5},{"s":"929","age":0.96,"v":3},{"s":"929","age":0.965,"v":0.5},{"s":"929","age":0.97,"v":2},{"s":"929","age":0.978,"v":4},{"s":"929","age":0.985,"v":1},{"s":"929","age":0.99,"v":0.5},{"s":"929","age":0.9975,"v":5.3},{"s":"929","age":1.0076,"v":1.2},{"s":"929","age":1.0153,"v":0.4},{"s":"929","age":1.0217,"v":2.2},{"s":"929","age":1.0268,"v":8.1},{"s":"929","age":1.0318,"v":4.8},{"s":"929","age":1.0395,"v":5.6},{"s":"929","age":1.0471,"v":4.8},{"s":"929","age":1.056,"v":0},{"s":"929","age":1.0631,"v":0.15},{"s":"929","age":1.0667,"v":17.2},{"s":"929","age":1.0739,"v":8.4},{"s":"929","age":1.079,"v":9.4},{"s":"929","age":1.0866,"v":6.6},{"s":"929","age":1.0904,"v":7.1},{"s":"929","age":1.0943,"v":5},{"s":"929","age":1.102,"v":0.15},{"s":"929","age":1.1108,"v":1.7},{"s":"929","age":1.1172,"v":12},{"s":"929","age":1.121,"v":13},{"s":"929","age":1.125,"v":1.2},{"s":"929","age":1.1289,"v":0.4},{"s":"929","age":1.1352,"v":2.2},{"s":"929","age":1.1403,"v":1.7},{"s":"929","age":1.1554,"v":13.6},{"s":"929","age":1.1631,"v":6.3},{"s":"929","age":1.1707,"v":5.3},{"s":"929","age":1.1771,"v":6.3},{"s":"929","age":1.1822,"v":13},{"s":"929","age":1.1911,"v":3.2},{"s":"929","age":1.1962,"v":1.7},{"s":"929","age":1.2,"v":1.2},
{"s":"925","age":0.6,"v":10},{"s":"925","age":0.61,"v":12.5},{"s":"925","age":0.615,"v":16},{"s":"925","age":0.62,"v":30},{"s":"925","age":0.624,"v":16},{"s":"925","age":0.628,"v":7},{"s":"925","age":0.633,"v":12},{"s":"925","age":0.638,"v":9},{"s":"925","age":0.642,"v":14},{"s":"925","age":0.647,"v":15.5},{"s":"925","age":0.652,"v":12},{"s":"925","age":0.657,"v":11},{"s":"925","age":0.663,"v":11},{"s":"925","age":0.668,"v":4},{"s":"925","age":0.672,"v":10},{"s":"925","age":0.677,"v":10},{"s":"925","age":0.682,"v":8},{"s":"925","age":0.687,"v":6},{"s":"925","age":0.692,"v":19},{"s":"925","age":0.698,"v":20},{"s":"925","age":0.702,"v":17},{"s":"925","age":0.708,"v":16},{"s":"925","age":0.712,"v":19},{"s":"925","age":0.716,"v":15},{"s":"925","age":0.72,"v":11},{"s":"925","age":0.724,"v":5},{"s":"925","age":0.73,"v":13},{"s":"925","age":0.738,"v":17},{"s":"925","age":0.745,"v":18.5},{"s":"925","age":0.752,"v":14},{"s":"925","age":0.758,"v":12},{"s":"925","age":0.762,"v":8},{"s":"925","age":0.768,"v":10},{"s":"925","age":0.773,"v":9},{"s":"925","age":0.778,"v":10},{"s":"925","age":0.782,"v":13},{"s":"925","age":0.786,"v":22},{"s":"925","age":0.792,"v":10},{"s":"925","age":0.798,"v":9.5},{"s":"925","age":0.805,"v":10},{"s":"925","age":0.812,"v":13},{"s":"925","age":0.818,"v":15},{"s":"925","age":0.825,"v":14},{"s":"925","age":0.832,"v":14.5},{"s":"925","age":0.84,"v":15.5},{"s":"925","age":0.848,"v":16},{"s":"925","age":0.855,"v":15},{"s":"925","age":0.862,"v":12},{"s":"925","age":0.866,"v":26},{"s":"925","age":0.872,"v":14},{"s":"925","age":0.878,"v":12},{"s":"925","age":0.884,"v":13},{"s":"925","age":0.89,"v":12},{"s":"925","age":0.895,"v":16},{"s":"925","age":0.9,"v":14},{"s":"925","age":0.905,"v":13},{"s":"925","age":0.912,"v":12},{"s":"925","age":0.918,"v":9},{"s":"925","age":0.924,"v":14},{"s":"925","age":0.93,"v":12},{"s":"925","age":0.936,"v":13},{"s":"925","age":0.942,"v":16},{"s":"925","age":0.947,"v":18},{"s":"925","age":0.952,"v":20.5},{"s":"925","age":0.958,"v":18},{"s":"925","age":0.962,"v":12},{"s":"925","age":0.966,"v":9},{"s":"925","age":0.971,"v":13},{"s":"925","age":0.976,"v":14},{"s":"925","age":0.982,"v":11},{"s":"925","age":0.988,"v":19},{"s":"925","age":0.994,"v":13},{"s":"925","age":1.0,"v":15.6},{"s":"925","age":1.005,"v":11},{"s":"925","age":1.01,"v":10.5},{"s":"925","age":1.013,"v":6.6},{"s":"925","age":1.017,"v":11.5},{"s":"925","age":1.023,"v":8.9},{"s":"925","age":1.031,"v":21.8},{"s":"925","age":1.034,"v":13.6},{"s":"925","age":1.042,"v":12.3},{"s":"925","age":1.046,"v":11.5},{"s":"925","age":1.054,"v":8.9},{"s":"925","age":1.064,"v":8.9},{"s":"925","age":1.0675,"v":29.8},{"s":"925","age":1.0726,"v":29.5},{"s":"925","age":1.0777,"v":19.2},{"s":"925","age":1.079,"v":21.3},{"s":"925","age":1.084,"v":20.8},{"s":"925","age":1.0854,"v":14.8},{"s":"925","age":1.0994,"v":5.8},{"s":"925","age":1.107,"v":9.9},{"s":"925","age":1.11,"v":12},{"s":"925","age":1.113,"v":23},{"s":"925","age":1.117,"v":13.3},{"s":"925","age":1.125,"v":10.5},{"s":"925","age":1.13,"v":11.5},{"s":"925","age":1.1376,"v":7.4},{"s":"925","age":1.145,"v":9.9},{"s":"925","age":1.152,"v":13},{"s":"925","age":1.158,"v":16},{"s":"925","age":1.164,"v":25.4},{"s":"925","age":1.168,"v":18},{"s":"925","age":1.175,"v":13},{"s":"925","age":1.18,"v":13},{"s":"925","age":1.185,"v":14},{"s":"925","age":1.19,"v":10},{"s":"925","age":1.195,"v":9},{"s":"925","age":1.2,"v":9}]
},
"hconcat": [
  {"width": 195, "height": 784,
   "title": {"text": "Site 929 δ¹⁸O (‰)", "offset": 13, "dx": -2},
   "resolve": {"axis": {"x": "independent", "y": "independent"}},
   "layer": [
    {"data": {"name": "bands"}, "mark": {"type": "rect", "color": "#c6c6c6"},
     "encoding": {"x": {"datum": 5, "type": "quantitative", "scale": {"domain": [3, 5], "reverse": true, "nice": false, "zero": false}, "axis": null}, "x2": {"datum": 3.09},
      "y": {"field": "a0", "type": "quantitative", "scale": {"domain": [0.6, 1.2], "reverse": true, "nice": false, "zero": false},
       "axis": {"orient": "left", "values": [0.6,0.62,0.64,0.66,0.68,0.7,0.72,0.74,0.76,0.78,0.8,0.82,0.84,0.86,0.88,0.9,0.92,0.94,0.96,0.98,1.0,1.02,1.04,1.06,1.08,1.1,1.12,1.14,1.16,1.18,1.2], "tickSize": {"condition": {"test": "abs(datum.value*10-round(datum.value*10))<0.001", "value": -9}, "value": -5}, "labelExpr": "abs(datum.value*10-round(datum.value*10))<0.001 ? format(datum.value, '.1f') : ''", "labelPadding": 24, "labelFontSize": 35, "labelOffset": 8,
        "title": ["Age", "(Ma)"], "titleFontSize": 31, "titleAngle": 0, "titleAlign": "left", "titleBaseline": "alphabetic", "titleX": -149, "titleY": 336, "titleLineHeight": 34}},
      "y2": {"field": "a1"}}},
    {"data": {"name": "p1"}, "mark": {"type": "line", "color": "#000", "strokeWidth": 2},
     "encoding": {
      "x": {"field": "v", "type": "quantitative", "scale": {"domain": [3, 5], "reverse": true, "nice": false, "zero": false},
       "axis": {"orient": "top", "title": null, "values": [3,3.1,3.2,3.3,3.4,3.5,3.6,3.7,3.8,3.9,4,4.1,4.2,4.3,4.4,4.5,4.6,4.7,4.8,4.9,5], "tickSize": {"condition": {"test": "abs(datum.value-round(datum.value))<0.001", "value": -10}, "value": -6}, "labelExpr": "abs(datum.value-round(datum.value))<0.001 ? ''+round(datum.value) : ''", "labelPadding": 12, "labelFontSize": 17}},
      "y": {"field": "age", "type": "quantitative", "scale": {"domain": [0.6, 1.2], "reverse": true, "nice": false, "zero": false}, "axis": null},
      "order": {"field": "age", "type": "quantitative"}}},
    {"data": {"name": "p1"}, "mark": {"type": "point", "filled": true, "color": "#000", "size": 22, "opacity": 1},
     "encoding": {
      "x": {"field": "v", "type": "quantitative", "scale": {"domain": [3, 5], "reverse": true, "nice": false, "zero": false},
       "axis": {"orient": "bottom", "title": null, "labels": false, "values": [3,3.1,3.2,3.3,3.4,3.5,3.6,3.7,3.8,3.9,4,4.1,4.2,4.3,4.4,4.5,4.6,4.7,4.8,4.9,5], "tickSize": {"condition": {"test": "abs(datum.value-round(datum.value))<0.001", "value": -10}, "value": -6}}},
      "y": {"field": "age", "type": "quantitative", "scale": {"domain": [0.6, 1.2], "reverse": true, "nice": false, "zero": false}, "axis": null}}}
   ]},
  {"width": 45, "height": 784, "data": {"values": []}, "mark": "point", "encoding": {}},
  {"width": 195, "height": 784,
   "title": {"text": "δ¹³C, seawater (‰)", "offset": 13, "dx": 10},
   "resolve": {"axis": {"x": "independent", "y": "independent"}},
   "layer": [
    {"data": {"name": "p2"}, "transform": [{"filter": "datum.s == '552A'"}], "mark": {"type": "line", "color": "#333", "strokeWidth": 1.2},
     "encoding": {
      "x": {"field": "v", "type": "quantitative", "scale": {"domain": [-1, 2], "nice": false, "zero": false},
       "axis": {"orient": "bottom", "title": null, "labels": false, "values": [-1,-0.9,-0.8,-0.7,-0.6,-0.5,-0.4,-0.3,-0.2,-0.1,0,0.1,0.2,0.3,0.4,0.5,0.6,0.7,0.8,0.9,1,1.1,1.2,1.3,1.4,1.5,1.6,1.7,1.8,1.9,2], "tickSize": {"condition": {"test": "abs(datum.value-round(datum.value))<0.001", "value": -10}, "value": -6}}},
      "y": {"field": "age", "type": "quantitative", "scale": {"domain": [0.6, 1.2], "reverse": true, "nice": false, "zero": false},
       "axis": {"orient": "left", "title": null, "labels": false, "values": [0.6,0.62,0.64,0.66,0.68,0.7,0.72,0.74,0.76,0.78,0.8,0.82,0.84,0.86,0.88,0.9,0.92,0.94,0.96,0.98,1.0,1.02,1.04,1.06,1.08,1.1,1.12,1.14,1.16,1.18,1.2], "tickSize": {"condition": {"test": "abs(datum.value*10-round(datum.value*10))<0.001", "value": -9}, "value": -5}}},
      "order": {"field": "age", "type": "quantitative"}}},
    {"data": {"name": "p2"}, "transform": [{"filter": "datum.s == '849'"}], "mark": {"type": "line", "color": "#000", "strokeWidth": 2.2, "strokeDash": [2, 3]},
     "encoding": {
      "x": {"field": "v", "type": "quantitative", "scale": {"domain": [-1, 2], "nice": false, "zero": false}, "axis": null},
      "y": {"field": "age", "type": "quantitative", "scale": {"domain": [0.6, 1.2], "reverse": true, "nice": false, "zero": false}, "axis": null},
      "order": {"field": "age", "type": "quantitative"}}},
    {"data": {"name": "p2"}, "transform": [{"filter": "datum.s == '929'"}], "mark": {"type": "line", "color": "#000", "strokeWidth": 2},
     "encoding": {
      "x": {"field": "v", "type": "quantitative", "scale": {"domain": [-1, 2], "nice": false, "zero": false},
       "axis": {"orient": "top", "title": null, "values": [-1,-0.9,-0.8,-0.7,-0.6,-0.5,-0.4,-0.3,-0.2,-0.1,0,0.1,0.2,0.3,0.4,0.5,0.6,0.7,0.8,0.9,1,1.1,1.2,1.3,1.4,1.5,1.6,1.7,1.8,1.9,2], "tickSize": {"condition": {"test": "abs(datum.value-round(datum.value))<0.001", "value": -10}, "value": -6}, "labelExpr": "abs(datum.value-round(datum.value))<0.001 ? ''+round(datum.value) : ''", "labelPadding": 12, "labelFontSize": 17, "labelOffset": 6}},
      "y": {"field": "age", "type": "quantitative", "scale": {"domain": [0.6, 1.2], "reverse": true, "nice": false, "zero": false}, "axis": null},
      "order": {"field": "age", "type": "quantitative"}}},
    {"data": {"name": "p2"}, "transform": [{"filter": "datum.s == '929'"}], "mark": {"type": "point", "filled": true, "color": "#000", "size": 20, "opacity": 1},
     "encoding": {
      "x": {"field": "v", "type": "quantitative", "scale": {"domain": [-1, 2], "nice": false, "zero": false}, "axis": null},
      "y": {"field": "age", "type": "quantitative", "scale": {"domain": [0.6, 1.2], "reverse": true, "nice": false, "zero": false}, "axis": null}}},
    {"data": {"values": [{"label": "849, 929, 552A"}]}, "mark": {"type": "text", "baseline": "middle", "align": "center", "fontSize": 18},
     "encoding": {"x": {"datum": 0.554, "type": "quantitative", "scale": {"domain": [-1, 2], "nice": false, "zero": false}, "axis": null}, "y": {"datum": 1.2237, "type": "quantitative", "scale": {"domain": [0.6, 1.2], "reverse": true, "nice": false, "zero": false}, "axis": null}, "text": {"field": "label"}}}
   ]},
  {"width": 43, "height": 784, "data": {"values": []}, "mark": "point", "encoding": {}},
  {"width": 194, "height": 784,
   "title": {"text": "929 Fract. NADW", "offset": 13, "dx": 18},
   "resolve": {"axis": {"x": "independent", "y": "independent"}},
   "layer": [
    {"data": {"name": "bands"}, "mark": {"type": "rect", "color": "#c6c6c6"},
     "encoding": {"x": {"datum": 0, "type": "quantitative", "scale": {"domain": [0, 1], "nice": false}, "axis": null}, "x2": {"datum": 1.268},
      "y": {"field": "a0", "type": "quantitative", "scale": {"domain": [0.6, 1.2], "reverse": true, "nice": false, "zero": false},
       "axis": {"orient": "left", "title": null, "labels": false, "values": [0.6,0.62,0.64,0.66,0.68,0.7,0.72,0.74,0.76,0.78,0.8,0.82,0.84,0.86,0.88,0.9,0.92,0.94,0.96,0.98,1.0,1.02,1.04,1.06,1.08,1.1,1.12,1.14,1.16,1.18,1.2], "tickSize": {"condition": {"test": "abs(datum.value*10-round(datum.value*10))<0.001", "value": -9}, "value": -5}}},
      "y2": {"field": "a1"}}},
    {"data": {"name": "p3"}, "transform": [{"filter": "datum.s == 'A'"}], "mark": {"type": "line", "color": "#000", "strokeWidth": 1.8, "strokeDash": [9, 6]},
     "encoding": {
      "x": {"field": "v", "type": "quantitative", "scale": {"domain": [0, 1], "nice": false},
       "axis": {"orient": "bottom", "title": null, "labels": false, "values": [0,0.1,0.2,0.3,0.4,0.5,0.6,0.7,0.8,0.9,1], "tickSize": -7}},
      "y": {"field": "age", "type": "quantitative", "scale": {"domain": [0.6, 1.2], "reverse": true, "nice": false, "zero": false}, "axis": null},
      "order": {"field": "age", "type": "quantitative"}}},
    {"data": {"name": "p3"}, "transform": [{"filter": "datum.s == 'B'"}], "mark": {"type": "line", "color": "#000", "strokeWidth": 1.8, "strokeDash": [9, 6]},
     "encoding": {
      "x": {"field": "v", "type": "quantitative", "scale": {"domain": [0, 1], "nice": false}, "axis": null},
      "y": {"field": "age", "type": "quantitative", "scale": {"domain": [0.6, 1.2], "reverse": true, "nice": false, "zero": false}, "axis": null},
      "order": {"field": "age", "type": "quantitative"}}},
    {"data": {"name": "p3"}, "transform": [{"filter": "datum.s == 'sm'"}], "mark": {"type": "line", "color": "#000", "strokeWidth": 2.4},
     "encoding": {
      "x": {"field": "v", "type": "quantitative", "scale": {"domain": [0, 1], "nice": false},
       "axis": {"orient": "top", "title": null, "values": [0,0.1,0.2,0.3,0.4,0.5,0.6,0.7,0.8,0.9,1], "tickSize": -7, "labelExpr": "abs(datum.value-round(datum.value))<0.001 ? ''+round(datum.value) : ''", "labelPadding": 9, "labelFontSize": 17, "labelOffset": -4}},
      "y": {"field": "age", "type": "quantitative", "scale": {"domain": [0.6, 1.2], "reverse": true, "nice": false, "zero": false}, "axis": null},
      "order": {"field": "age", "type": "quantitative"}}},
    {"data": {"values": [{"label": "Solid = 15 k.y. smooth"}]}, "mark": {"type": "text", "baseline": "middle", "align": "center", "fontSize": 18},
     "encoding": {"x": {"datum": 0.567, "type": "quantitative", "scale": {"domain": [0, 1], "nice": false}, "axis": null}, "y": {"datum": 1.2262, "type": "quantitative", "scale": {"domain": [0.6, 1.2], "reverse": true, "nice": false, "zero": false}, "axis": null}, "text": {"field": "label"}}}
   ]},
  {"width": 52, "height": 784, "data": {"values": []}, "mark": "point", "encoding": {}},
  {"width": 194, "height": 784,
   "title": {"text": "Carbonate  AR", "offset": 10, "dx": 7},
   "resolve": {"axis": {"x": "independent", "y": "independent"}},
   "layer": [
    {"data": {"name": "bands"}, "mark": {"type": "rect", "color": "#c6c6c6"},
     "encoding": {"x": {"datum": 0, "type": "quantitative", "scale": {"domain": [0, 2], "nice": false}, "axis": null}, "x2": {"datum": 2.608},
      "y": {"field": "a0", "type": "quantitative", "scale": {"domain": [0.6, 1.2], "reverse": true, "nice": false, "zero": false},
       "axis": {"orient": "left", "title": null, "labels": false, "values": [0.6,0.62,0.64,0.66,0.68,0.7,0.72,0.74,0.76,0.78,0.8,0.82,0.84,0.86,0.88,0.9,0.92,0.94,0.96,0.98,1.0,1.02,1.04,1.06,1.08,1.1,1.12,1.14,1.16,1.18,1.2], "tickSize": {"condition": {"test": "abs(datum.value*10-round(datum.value*10))<0.001", "value": -9}, "value": -5}}},
      "y2": {"field": "a1"}}},
    {"data": {"name": "p4"}, "transform": [{"filter": "datum.s == '928'"}], "mark": {"type": "line", "color": "#000", "strokeWidth": 1.8, "strokeDash": [3, 3]},
     "encoding": {
      "x": {"field": "v", "type": "quantitative", "scale": {"domain": [0, 2], "nice": false},
       "axis": {"orient": "bottom", "title": null, "labels": false, "values": [0,0.1,0.2,0.3,0.4,0.5,0.6,0.7,0.8,0.9,1,1.1,1.2,1.3,1.4,1.5,1.6,1.7,1.8,1.9,2], "tickSize": {"condition": {"test": "abs(datum.value-round(datum.value))<0.001", "value": -10}, "value": -6}}},
      "y": {"field": "age", "type": "quantitative", "scale": {"domain": [0.6, 1.2], "reverse": true, "nice": false, "zero": false}, "axis": null},
      "order": {"field": "age", "type": "quantitative"}}},
    {"data": {"name": "p4"}, "transform": [{"filter": "datum.s == '925'"}], "mark": {"type": "line", "color": "#000", "strokeWidth": 2},
     "encoding": {
      "x": {"field": "v", "type": "quantitative", "scale": {"domain": [0, 2], "nice": false}, "axis": null},
      "y": {"field": "age", "type": "quantitative", "scale": {"domain": [0.6, 1.2], "reverse": true, "nice": false, "zero": false}, "axis": null},
      "order": {"field": "age", "type": "quantitative"}}},
    {"data": {"name": "p4"}, "transform": [{"filter": "datum.s == '929'"}], "mark": {"type": "line", "color": "#000", "strokeWidth": 2},
     "encoding": {
      "x": {"field": "v", "type": "quantitative", "scale": {"domain": [0, 2], "nice": false},
       "axis": {"orient": "top", "title": null, "values": [0,0.1,0.2,0.3,0.4,0.5,0.6,0.7,0.8,0.9,1,1.1,1.2,1.3,1.4,1.5,1.6,1.7,1.8,1.9,2], "tickSize": {"condition": {"test": "abs(datum.value-round(datum.value))<0.001", "value": -10}, "value": -6}, "labelExpr": "abs(datum.value-round(datum.value))<0.001 ? ''+round(datum.value) : ''", "labelPadding": 12, "labelFontSize": 17}},
      "y": {"field": "age", "type": "quantitative", "scale": {"domain": [0.6, 1.2], "reverse": true, "nice": false, "zero": false}, "axis": null},
      "order": {"field": "age", "type": "quantitative"}}},
    {"data": {"values": [{"label": "929"}]}, "mark": {"type": "text", "baseline": "middle", "align": "center", "fontSize": 18},
     "encoding": {"x": {"datum": 0.34, "type": "quantitative", "scale": {"domain": [0, 2], "nice": false}, "axis": null}, "y": {"datum": 1.2229, "type": "quantitative", "scale": {"domain": [0.6, 1.2], "reverse": true, "nice": false, "zero": false}, "axis": null}, "text": {"field": "label"}}},
    {"data": {"values": [{"label": "928"}]}, "mark": {"type": "text", "baseline": "middle", "align": "center", "fontSize": 18},
     "encoding": {"x": {"datum": 0.907, "type": "quantitative", "scale": {"domain": [0, 2], "nice": false}, "axis": null}, "y": {"datum": 1.2229, "type": "quantitative", "scale": {"domain": [0.6, 1.2], "reverse": true, "nice": false, "zero": false}, "axis": null}, "text": {"field": "label"}}},
    {"data": {"values": [{"label": "925"}]}, "mark": {"type": "text", "baseline": "middle", "align": "center", "fontSize": 18},
     "encoding": {"x": {"datum": 1.464, "type": "quantitative", "scale": {"domain": [0, 2], "nice": false}, "axis": null}, "y": {"datum": 1.2229, "type": "quantitative", "scale": {"domain": [0.6, 1.2], "reverse": true, "nice": false, "zero": false}, "axis": null}, "text": {"field": "label"}}}
   ]},
  {"width": 59, "height": 784, "data": {"values": []}, "mark": "point", "encoding": {}},
  {"width": 194, "height": 784,
   "title": {"text": "Coarse Fraction %", "offset": 12, "dx": 6},
   "resolve": {"axis": {"x": "independent", "y": "independent"}},
   "layer": [
    {"data": {"name": "bands"}, "mark": {"type": "rect", "color": "#c6c6c6"},
     "encoding": {"x": {"datum": 0, "type": "quantitative", "scale": {"domain": [0, 30], "nice": false}, "axis": null}, "x2": {"datum": 30.6},
      "y": {"field": "a0", "type": "quantitative", "scale": {"domain": [0.6, 1.2], "reverse": true, "nice": false, "zero": false},
       "axis": {"orient": "left", "title": null, "labels": false, "values": [0.6,0.62,0.64,0.66,0.68,0.7,0.72,0.74,0.76,0.78,0.8,0.82,0.84,0.86,0.88,0.9,0.92,0.94,0.96,0.98,1.0,1.02,1.04,1.06,1.08,1.1,1.12,1.14,1.16,1.18,1.2], "tickSize": {"condition": {"test": "abs(datum.value*10-round(datum.value*10))<0.001", "value": -9}, "value": -5}}},
      "y2": {"field": "a1"}}},
    {"data": {"name": "p5"}, "transform": [{"filter": "datum.s == '925'"}], "mark": {"type": "line", "color": "#000", "strokeWidth": 2},
     "encoding": {
      "x": {"field": "v", "type": "quantitative", "scale": {"domain": [0, 30], "nice": false},
       "axis": {"orient": "bottom", "title": null, "labels": false, "values": [0,1,2,3,4,5,6,7,8,9,10,11,12,13,14,15,16,17,18,19,20,21,22,23,24,25,26,27,28,29,30], "tickSize": {"condition": {"test": "datum.value % 10 == 0", "value": -10}, "value": -6}}},
      "y": {"field": "age", "type": "quantitative", "scale": {"domain": [0.6, 1.2], "reverse": true, "nice": false, "zero": false}, "axis": null},
      "order": {"field": "age", "type": "quantitative"}}},
    {"data": {"name": "p5"}, "transform": [{"filter": "datum.s == '929'"}], "mark": {"type": "line", "color": "#000", "strokeWidth": 2},
     "encoding": {
      "x": {"field": "v", "type": "quantitative", "scale": {"domain": [0, 30], "nice": false},
       "axis": {"orient": "top", "title": null, "values": [0,1,2,3,4,5,6,7,8,9,10,11,12,13,14,15,16,17,18,19,20,21,22,23,24,25,26,27,28,29,30], "tickSize": {"condition": {"test": "datum.value % 10 == 0", "value": -10}, "value": -6}, "labelExpr": "datum.value % 10 == 0 ? ''+datum.value : ''", "labelPadding": 12, "labelFontSize": 17}},
      "y": {"field": "age", "type": "quantitative", "scale": {"domain": [0.6, 1.2], "reverse": true, "nice": false, "zero": false}, "axis": null},
      "order": {"field": "age", "type": "quantitative"}}},
    {"data": {"values": [{"label": "929"}]}, "mark": {"type": "text", "baseline": "middle", "align": "center", "fontSize": 18},
     "encoding": {"x": {"datum": 2.78, "type": "quantitative", "scale": {"domain": [0, 30], "nice": false}, "axis": null}, "y": {"datum": 1.2229, "type": "quantitative", "scale": {"domain": [0.6, 1.2], "reverse": true, "nice": false, "zero": false}, "axis": null}, "text": {"field": "label"}}},
    {"data": {"values": [{"label": "925"}]}, "mark": {"type": "text", "baseline": "middle", "align": "center", "fontSize": 18},
     "encoding": {"x": {"datum": 19.64, "type": "quantitative", "scale": {"domain": [0, 30], "nice": false}, "axis": null}, "y": {"datum": 1.2229, "type": "quantitative", "scale": {"domain": [0.6, 1.2], "reverse": true, "nice": false, "zero": false}, "axis": null}, "text": {"field": "label"}}}
   ]}
]
}
